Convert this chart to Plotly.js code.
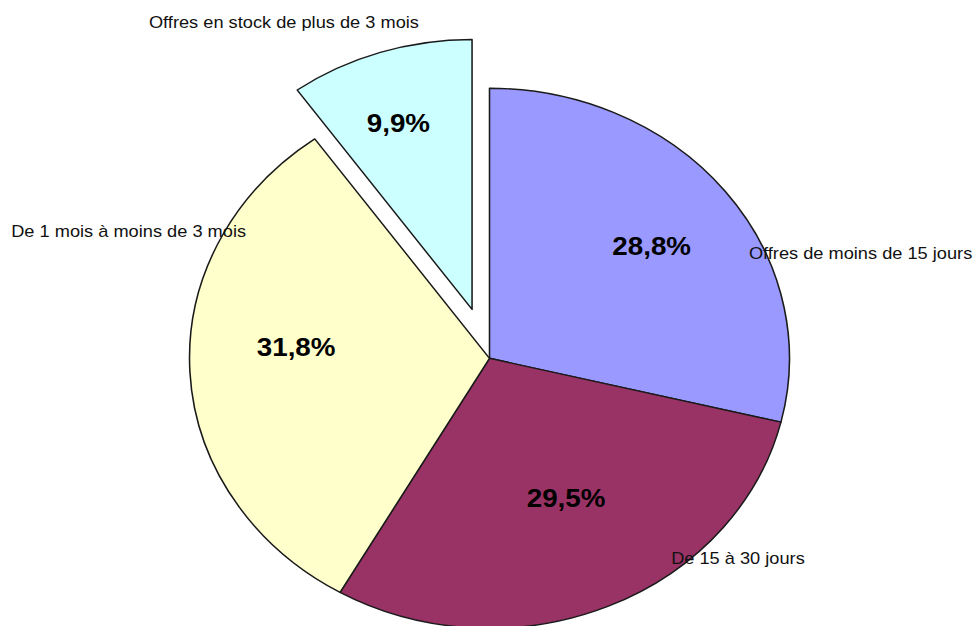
<!DOCTYPE html>
<html>
<head>
<meta charset="utf-8">
<script src="https://cdn.plot.ly/plotly-3.0.1.min.js"></script>
<style>
  html, body { margin: 0; padding: 0; background: #ffffff; overflow: hidden; width: 975px; height: 626px; }
  #chart { position: absolute; left: 0; top: 0; width: 979px; height: 700px;
           transform: scaleX(1.111); transform-origin: 489.5px 0; }
</style>
</head>
<body>
<div id="chart"></div>
<script>
// Data
const categories = ["Offres de moins de 15 jours", "De 15 à 30 jours", "De 1 mois à moins de 3 mois", "Offres en stock de plus de 3 mois"];
const values = [28.8, 29.5, 31.8, 9.9];
const colors = ["#9999FF", "#993366", "#FFFFCC", "#CCFFFF"];
const pulls = [0, 0, 0, 0.19];

// Layout helpers (div is 979 x 700, stretched horizontally by 1.111 around x=489.5)
const W = 979, H = 700, S = 1.111, OX = 489.5;
function px(x) { return (OX + (x - OX) / S) / W; }
function py(y) { return 1 - y / H; }

// screen positions for category labels and percentage labels
const labelPos = [[860.5, 252.5], [738.3, 558], [128.8, 231], [284, 22]];
const pctPos = [[651.2, 245.5], [566, 498], [296.7, 347], [398, 123.5]];

const fmt = v => v.toFixed(1).replace('.', ',') + '%';

const annotations = [];
categories.forEach((c, i) => {
  annotations.push({
    text: c, xref: 'paper', yref: 'paper',
    x: px(labelPos[i][0]), y: py(labelPos[i][1]),
    xanchor: 'center', yanchor: 'middle', showarrow: false,
    font: { family: 'Liberation Sans, Arial, sans-serif', size: 16.4, color: '#111' }
  });
  annotations.push({
    text: '<b>' + fmt(values[i]) + '</b>', xref: 'paper', yref: 'paper',
    x: px(pctPos[i][0]), y: py(pctPos[i][1]),
    xanchor: 'center', yanchor: 'middle', showarrow: false,
    font: { family: 'Liberation Sans, Arial, sans-serif', size: 25, color: '#000' }
  });
});

const trace = {
  type: 'pie',
  labels: categories,
  values: values,
  sort: false,
  direction: 'clockwise',
  rotation: 0,
  pull: pulls,
  textinfo: 'none',
  hoverinfo: 'label+percent',
  marker: { colors: colors, line: { color: '#1a1a1a', width: 1.4 } },
  domain: { x: [0, 1], y: [20.4 / H, 663 / H] },
  showlegend: false
};

const layout = {
  width: W, height: H,
  margin: { l: 0, r: 0, t: 0, b: 0 },
  paper_bgcolor: '#ffffff',
  showlegend: false,
  annotations: annotations
};

Plotly.newPlot('chart', [trace], layout, { staticPlot: true, displayModeBar: false });
</script>
</body>
</html>
